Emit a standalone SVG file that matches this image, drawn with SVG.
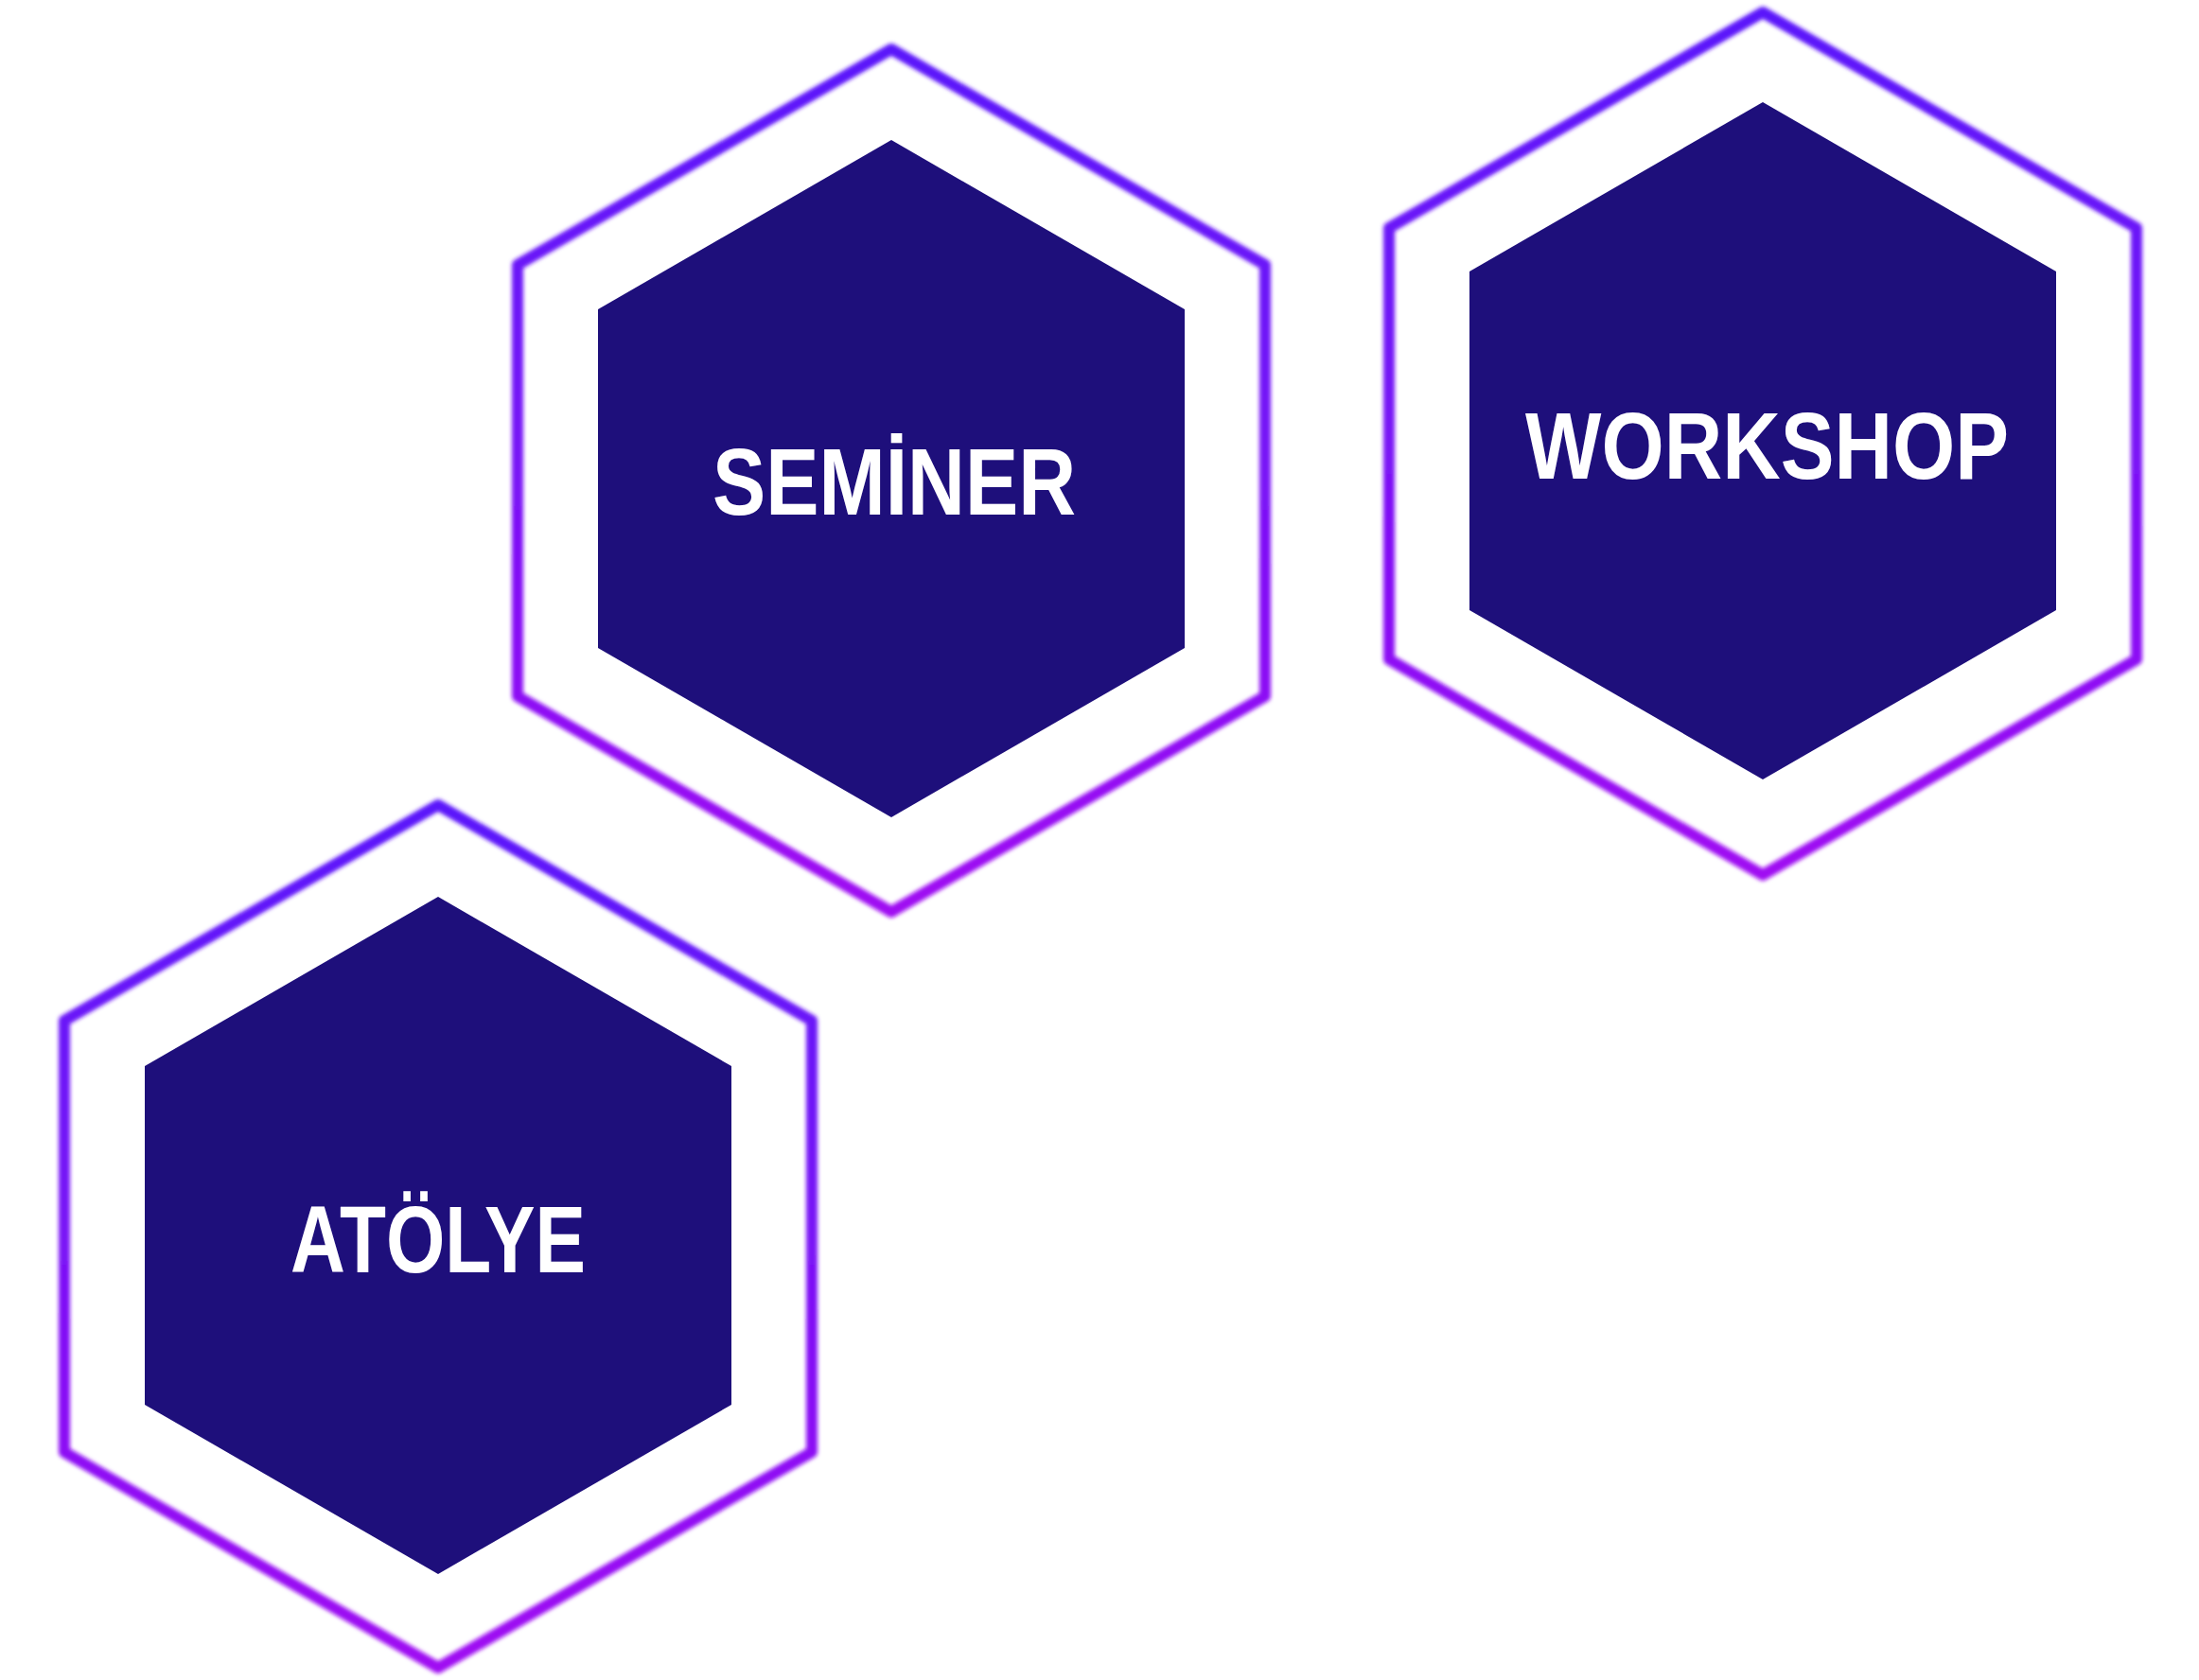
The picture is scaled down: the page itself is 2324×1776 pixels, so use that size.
<svg xmlns="http://www.w3.org/2000/svg" width="2324" height="1776" viewBox="0 0 2324 1776">
  <defs>
    <linearGradient id="ringGrad" x1="0" y1="0" x2="0" y2="1">
      <stop offset="0" stop-color="#5a12fa"/>
      <stop offset="0.5" stop-color="#7a12f6"/>
      <stop offset="1" stop-color="#a00ef2"/>
    </linearGradient>
    <filter id="glow" x="-5%" y="-5%" width="110%" height="110%">
      <feGaussianBlur stdDeviation="2"/>
    </filter>
  </defs>
  <style>
    .ring { fill: none; stroke: url(#ringGrad); stroke-width: 12; stroke-linejoin: round; filter: url(#glow); }
    .core { fill: #1e0f7b; }
    .label { fill: #ffffff; font-family: "Liberation Sans", "DejaVu Sans", sans-serif; font-size: 100px; font-weight: bold; }
  </style>
  <rect x="0" y="0" width="2324" height="1776" fill="#ffffff"/>
  <g id="connectors"/>
  <g id="node-seminer">
    <polygon class="ring" points="942,52 1337,280 1337,736 942,964 547,736 547,280"/>
    <polygon class="core" points="942,148 1252,327 1252,685 942,864 632,685 632,327"/>
    <text class="label" x="753" y="544" textLength="384" lengthAdjust="spacingAndGlyphs">SEMİNER</text>
  </g>
  <g id="node-workshop">
    <polygon class="ring" points="1863,13 2258,241 2258,697 1863,925 1468,697 1468,241"/>
    <polygon class="core" points="1863,108 2173,287 2173,645 1863,824 1553,645 1553,287"/>
    <text class="label" x="1612" y="506" textLength="511" lengthAdjust="spacingAndGlyphs">WORKSHOP</text>
  </g>
  <g id="node-atolye">
    <polygon class="ring" points="463,851 858,1079 858,1535 463,1763 68,1535 68,1079"/>
    <polygon class="core" points="463,948 773,1127 773,1485 463,1664 153,1485 153,1127"/>
    <text class="label" x="307" y="1345" textLength="312" lengthAdjust="spacingAndGlyphs">ATÖLYE</text>
  </g>
</svg>
